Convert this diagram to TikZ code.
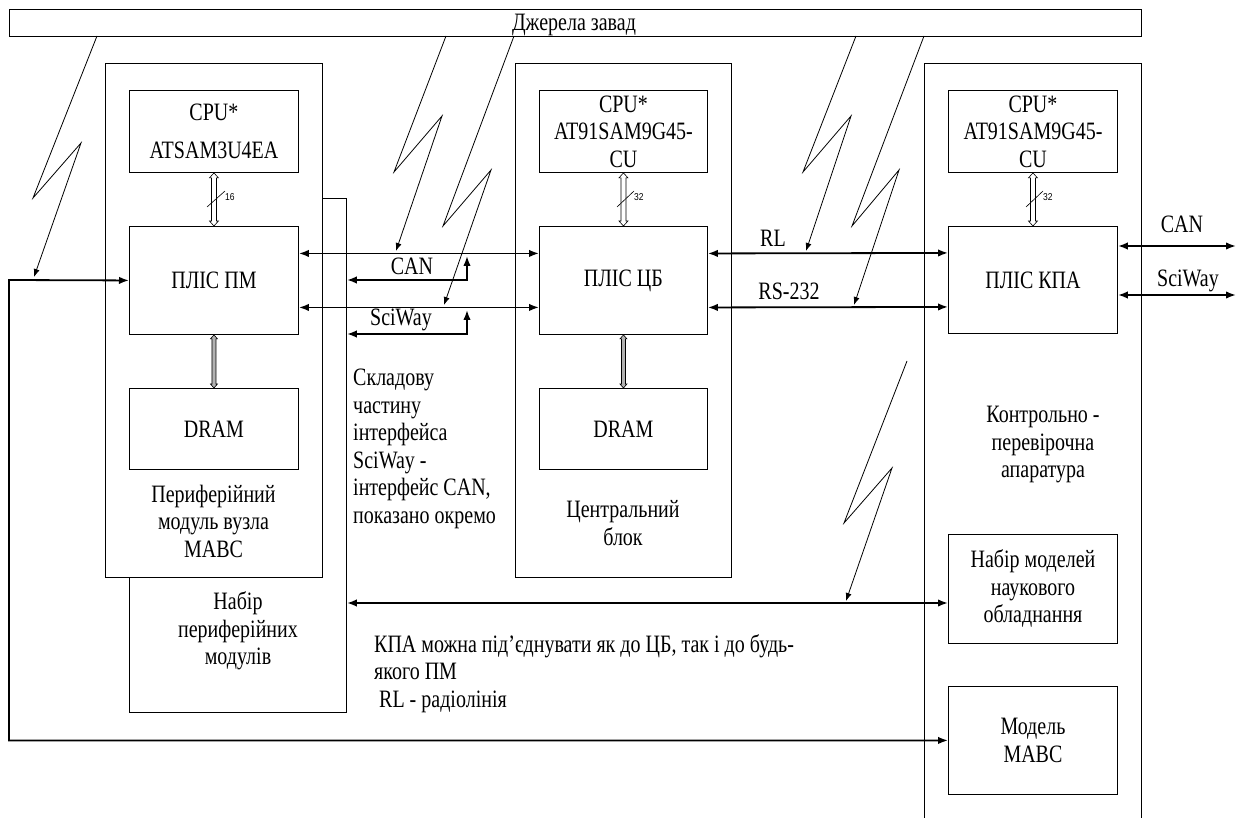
\documentclass[tikz,border=0pt]{standalone}
\usepackage{fontspec}
\setmainfont{Liberation Serif}[FakeStretch=0.8]
\newfontfamily\numfont{Liberation Sans}[FakeStretch=0.85]
\usetikzlibrary{arrows.meta}
\newcommand\hollowarrow[6]{%
 \draw[line width=0.6pt, fill=#6] (#1.south)
  -- ([shift={(#3pt,-#5pt)}]#1.south) -- ([shift={(#4pt,-#5pt)}]#1.south)
  -- ([shift={(#4pt,#5pt)}]#2.north) -- ([shift={(#3pt,#5pt)}]#2.north)
  -- (#2.north)
  -- ([shift={(-#3pt,#5pt)}]#2.north) -- ([shift={(-#4pt,#5pt)}]#2.north)
  -- ([shift={(-#4pt,-#5pt)}]#1.south) -- ([shift={(-#3pt,-#5pt)}]#1.south) -- cycle;}
\begin{document}
\begin{tikzpicture}[x=1pt,y=-1pt, font=\fontsize{25}{27.5}\selectfont,
  box/.style={draw, line width=0.9pt, inner sep=0pt, anchor=north west, fill=white, align=center},
  txt/.style={inner sep=0pt, align=center},
  bus/.style={line width=1.8pt},
  >={Latex[length=10pt,width=7.5pt]},
  bolt/.style={line width=0.8pt, -{Latex[length=8pt,width=6pt]}},
  num/.style={font=\numfont\fontsize{10}{10}\selectfont, anchor=west, inner sep=0pt}]
\useasboundingbox (0,0) rectangle (1240,818);
\fill[white] (0,0) rectangle (1240,818);

% top bar
\node[box, minimum width=1132pt, minimum height=27pt] (bar) at (9,9) {};
\node[txt] (bartxt) at (574,25) {Джерела завад};

% peripheral module
\node[box, minimum width=217pt, minimum height=514pt] (pset) at (129,198) {};
\node[box, minimum width=217pt, minimum height=514pt] (pm) at (105,63) {};
\node[box, minimum width=169pt, minimum height=82pt] (pmcpu) at (129,90) {CPU*\\[10pt]ATSAM3U4EA};
\node[box, minimum width=169pt, minimum height=108pt] (pmplis) at (129,226) {ПЛІС ПМ};
\node[box, minimum width=169pt, minimum height=81pt] (pmdram) at (129,388) {DRAM};
\node[txt] (pmlabel) at (213.5,521) {Периферійний\\модуль вузла\\МАВС};
\node[txt] (psetlabel) at (238,631) {Набір\\периферійних\\модулів};

% central block
\node[box, minimum width=216pt, minimum height=514pt] (cb) at (515,63) {};
\node[box, minimum width=168pt, minimum height=82pt] (cbcpu) at (539,90) {CPU*\\AT91SAM9G45-\\CU};
\node[box, minimum width=168pt, minimum height=108pt] (cbplis) at (539,226) {ПЛІС ЦБ};
\node[box, minimum width=168pt, minimum height=81pt] (cbdram) at (539,388) {DRAM};
\node[txt] (cblabel) at (623,523) {Центральний\\блок};

% KPA
\draw[line width=0.9pt] (924,818.5) -- (924,63) -- (1141,63) -- (1141,818.5);
\node[box, minimum width=169pt, minimum height=82pt] (kpacpu) at (948,90) {CPU*\\AT91SAM9G45-\\CU};
\node[box, minimum width=169pt, minimum height=107pt] (kpaplis) at (948,226) {ПЛІС КПА};
\node[txt] (kpalabel) at (1043,445) {Контрольно -\\перевірочна\\апаратура};
\node[box, minimum width=169pt, minimum height=109pt] (kpasci) at (948,534) {Набір моделей\\наукового\\обладнання};
\node[box, minimum width=169pt, minimum height=108pt] (kpamodel) at (948,686) {Модель\\МАВС};

% hollow internal buses
\hollowarrow{pmcpu}{pmplis}{4.5}{2.5}{5}{white}
\hollowarrow{cbcpu}{cbplis}{4.5}{2.5}{5}{white}
\hollowarrow{kpacpu}{kpaplis}{4.5}{2.5}{5}{white}
\hollowarrow{pmplis}{pmdram}{3.5}{2}{4}{gray!60}
\hollowarrow{cbplis}{cbdram}{3.5}{2}{4}{gray!60}
\draw[line width=0.6pt] (207,207) -- (225,191);
\node[num] (n16) at (225,197) {16};
\draw[line width=0.6pt] (617,207) -- (634,191);
\node[num] (n32a) at (634,197) {32};
\draw[line width=0.6pt] (1026,207) -- (1043,191);
\node[num] (n32b) at (1043,197) {32};

% buses
\draw[bus,<->] ([yshift=27pt]pmplis.east) -- ([yshift=27pt]cbplis.west);
\draw[bus,<->] ([yshift=-27pt]pmplis.east) -- ([yshift=-27pt]cbplis.west);
\coordinate (canc) at (467,280);
\coordinate (sciwc) at (467,334);
\draw[bus,<->] (pset.east |- canc) -- (canc) -- (467,256);
\draw[bus,<->] (pset.east |- sciwc) -- (sciwc) -- (467,310);
\node[txt] (canlbl) at (412,266) {CAN};
\node[txt] (scilbl) at (401,320) {SciWay};

\draw[bus,<->] ([yshift=27pt]cbplis.east) -- ([yshift=27pt]kpaplis.west);
\draw[bus,<->] ([yshift=-27pt]cbplis.east) -- ([yshift=-27pt]kpaplis.west);
\node[txt] (rllbl) at (773,238) {RL};
\node[txt] (rslbl) at (789,291) {RS-232};

\coordinate (canr) at (1236,246);
\coordinate (scir) at (1236,295);
\draw[bus,<->] (kpaplis.east |- canr) -- (canr);
\draw[bus,<->] (kpaplis.east |- scir) -- (scir);
\node[txt] (canrlbl) at (1182,224) {CAN};
\node[txt] (scirlbl) at (1188,281) {SciWay};

\coordinate (lowl) at (346,603);
\draw[bus,<->] (pset.east |- lowl) -- (kpasci.west |- lowl);

\coordinate (lc) at (9,280);
\draw[bus,<->, line join=miter] (pmplis.west) -- (lc) |- (kpamodel.west);

% interference bolts
\draw[bolt] (97,36) -- (33,198) -- (81,143) -- (34,277);
\draw[bolt] (446,36) -- (394,172) -- (442,116) -- (396,251);
\draw[bolt] (514,36) -- (443,226) -- (491,170) -- (444,305);
\draw[bolt] (856,36) -- (803,172) -- (851,116) -- (806,251);
\draw[bolt] (924,36) -- (852,226) -- (899,170) -- (854,305);
\draw[bolt] (907,361) -- (844,523) -- (892,468) -- (846,601);

% notes
\node[txt, align=left, anchor=north west] (note1) at (353,369) {Складову\\частину\\інтерфейса\\SciWay -\\інтерфейс CAN,\\показано окремо};
\node[txt, align=left, anchor=north west] (note2) at (374,634) {КПА можна під’єднувати як до ЦБ, так і до будь-\\якого ПМ\\\hspace*{5pt}RL - радіолінія};
\end{tikzpicture}
\end{document}
